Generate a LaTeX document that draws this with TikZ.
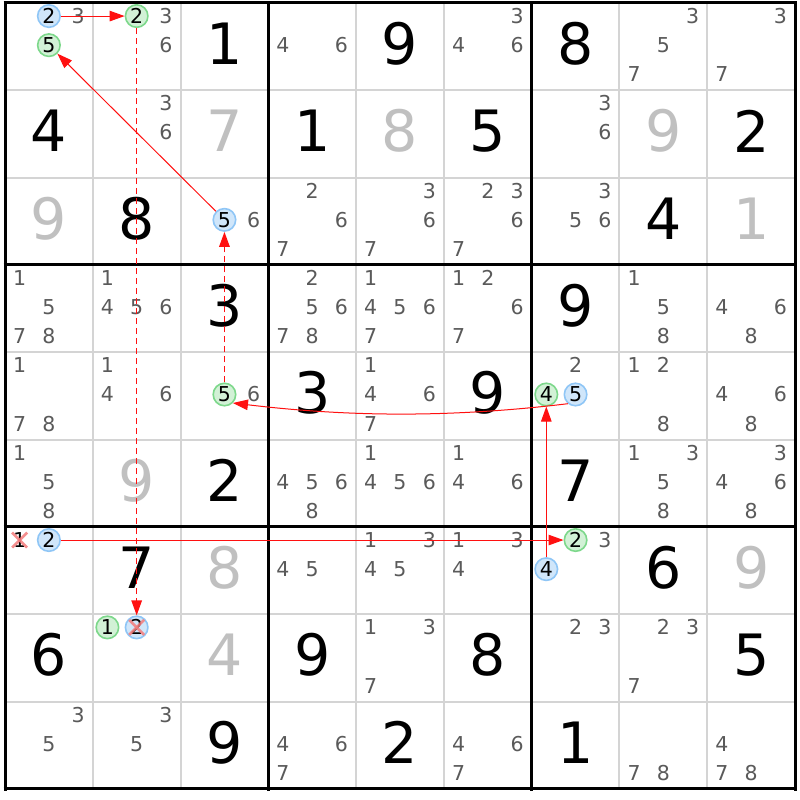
\documentclass[tikz,border=0pt]{standalone}
\usepackage{fontspec}
\setmainfont{DejaVu Sans}
\usetikzlibrary{arrows.meta}
\definecolor{candgray}{HTML}{5A5A5A}
\definecolor{givgray}{HTML}{C0C0C0}
\definecolor{gridgray}{HTML}{D4D4D4}
\definecolor{bluefill}{HTML}{D0E6FA}
\definecolor{blueline}{HTML}{8FC6F6}
\definecolor{greenfill}{HTML}{D2F1D6}
\definecolor{greenline}{HTML}{7DD88B}
\definecolor{linkred}{HTML}{FF1010}
\definecolor{crossred}{HTML}{F47C7C}
\tikzset{
  given/.style={inner sep=0pt, font=\fontsize{57}{57}\selectfont, text=black},
  givengray/.style={given, text=givgray},
  cand/.style={inner sep=0pt, font=\fontsize{20.5}{20.5}\selectfont, text=candgray},
  bluec/.style={circle, draw=blueline, fill=bluefill, line width=1.6pt, minimum size=22.5pt, text=black},
  greenc/.style={circle, draw=greenline, fill=greenfill, line width=1.6pt, minimum size=22.5pt, text=black},
  link/.style={draw=linkred, line width=1pt},
  dlink/.style={draw=linkred, line width=1.5pt, dash pattern=on 6pt off 4pt},
  arrtip/.style={-{Triangle[length=15pt,width=10.5pt]}},
  xmark/.style={draw=crossred, line width=2.6pt, opacity=0.85},
  thinline/.style={draw=gridgray, line width=2pt},
  thickline/.style={draw=black, line width=3pt},
}
\newcommand\Given[4]{\node[#4] (g-#1-#2) at ({5+87.78*(#2+0.5)},{3+87.33*(#1+0.5)-3}) {#3};}
\newcommand\Cands[3]{\foreach \dd in {#3}{\node[cand] (c-#1-#2-\dd) at ({5+87.78*(#2+0.5)+29.26*(mod(\dd-1,3)-1)},{3+87.33*(#1+0.5)+29.1*(floor((\dd-1)/3)-1)-1.5}) {\dd};}}
\newcommand\Cc[4]{\node[cand,#4] (c-#1-#2-#3) at ({5+87.78*(#2+0.5)+29.26*(mod(#3-1,3)-1)},{3+87.33*(#1+0.5)+29.1*(floor((#3-1)/3)-1)-1.5}) {#3};}
\begin{document}
\begin{tikzpicture}[x=1pt,y=-1pt]
\fill[white] (0,0) rectangle (800,800);
\useasboundingbox (0,0) rectangle (800,800);
% grid
\foreach \i in {1,2,4,5,7,8}{
  \draw[thinline] ({5+87.78*\i},3) -- ({5+87.78*\i},789);
  \draw[thinline] (5,{3+87.33*\i}) -- (795,{3+87.33*\i});
}
\foreach \i in {0,3,6,9}{
  \draw[thickline] ({5+87.78*\i},1.5) -- ({5+87.78*\i},790.5);
  \draw[thickline] (3.5,{3+87.33*\i}) -- (796.5,{3+87.33*\i});
}
% givens
\Given{0}{2}{1}{given}\Given{0}{4}{9}{given}\Given{0}{6}{8}{given}
\Given{1}{0}{4}{given}\Given{1}{2}{7}{givengray}\Given{1}{3}{1}{given}\Given{1}{4}{8}{givengray}\Given{1}{5}{5}{given}\Given{1}{7}{9}{givengray}\Given{1}{8}{2}{given}
\Given{2}{0}{9}{givengray}\Given{2}{1}{8}{given}\Given{2}{7}{4}{given}\Given{2}{8}{1}{givengray}
\Given{3}{2}{3}{given}\Given{3}{6}{9}{given}
\Given{4}{3}{3}{given}\Given{4}{5}{9}{given}
\Given{5}{1}{9}{givengray}\Given{5}{2}{2}{given}\Given{5}{6}{7}{given}
\Given{6}{1}{7}{given}\Given{6}{2}{8}{givengray}\Given{6}{7}{6}{given}\Given{6}{8}{9}{givengray}
\Given{7}{0}{6}{given}\Given{7}{2}{4}{givengray}\Given{7}{3}{9}{given}\Given{7}{5}{8}{given}\Given{7}{8}{5}{given}
\Given{8}{2}{9}{given}\Given{8}{4}{2}{given}\Given{8}{6}{1}{given}
% candidates
\Cands{0}{0}{3}\Cc{0}{0}{2}{bluec}\Cc{0}{0}{5}{greenc}
\Cands{0}{1}{3,6}\Cc{0}{1}{2}{greenc}
\Cands{0}{3}{4,6}\Cands{0}{5}{3,4,6}\Cands{0}{7}{3,5,7}\Cands{0}{8}{3,7}
\Cands{1}{1}{3,6}\Cands{1}{6}{3,6}
\Cands{2}{2}{6}\Cc{2}{2}{5}{bluec}
\Cands{2}{3}{2,6,7}\Cands{2}{4}{3,6,7}\Cands{2}{5}{2,3,6,7}\Cands{2}{6}{3,5,6}
\Cands{3}{0}{1,5,7,8}\Cands{3}{1}{1,4,5,6}\Cands{3}{3}{2,5,6,7,8}\Cands{3}{4}{1,4,5,6,7}\Cands{3}{5}{1,2,6,7}\Cands{3}{7}{1,5,8}\Cands{3}{8}{4,6,8}
\Cands{4}{0}{1,7,8}\Cands{4}{1}{1,4,6}\Cands{4}{2}{6}\Cc{4}{2}{5}{greenc}
\Cands{4}{4}{1,4,6,7}\Cands{4}{6}{2}\Cc{4}{6}{4}{greenc}\Cc{4}{6}{5}{bluec}
\Cands{4}{7}{1,2,8}\Cands{4}{8}{4,6,8}
\Cands{5}{0}{1,5,8}\Cands{5}{3}{4,5,6,8}\Cands{5}{4}{1,4,5,6}\Cands{5}{5}{1,4,6}\Cands{5}{7}{1,3,5,8}\Cands{5}{8}{3,4,6,8}
\Cc{6}{0}{1}{text=black}\Cc{6}{0}{2}{bluec}
\Cands{6}{3}{4,5}\Cands{6}{4}{1,3,4,5}\Cands{6}{5}{1,3,4}
\Cands{6}{6}{3}\Cc{6}{6}{2}{greenc}\Cc{6}{6}{4}{bluec}
\Cc{7}{1}{1}{greenc}\Cc{7}{1}{2}{bluec}
\Cands{7}{4}{1,3,7}\Cands{7}{6}{2,3}\Cands{7}{7}{2,3,7}
\Cands{8}{0}{3,5}\Cands{8}{1}{3,5}\Cands{8}{3}{4,6,7}\Cands{8}{5}{4,6,7}\Cands{8}{7}{7,8}\Cands{8}{8}{4,7,8}
% links
\draw[link,arrtip] (c-0-0-2) -- (c-0-1-2);
\draw[dlink,arrtip] (c-0-1-2) -- (c-7-1-2);
\draw[link,arrtip] (c-2-2-5) -- (c-0-0-5);
\draw[dlink,arrtip] (c-4-2-5) -- (c-2-2-5);
\draw[link,arrtip] (c-4-6-5.-130) .. controls +(-117,14) and +(117,14) .. (c-4-2-5.-45);
\draw[link,arrtip] (c-6-0-2) -- (c-6-6-2);
\draw[link,arrtip] (c-6-6-4) -- (c-4-6-4);
% eliminations
\draw[xmark] (c-6-0-1.center) ++(-7.5,-7.5) -- ++(15,15);
\draw[xmark] (c-6-0-1.center) ++(7.5,-7.5) -- ++(-15,15);
\draw[xmark] (c-7-1-2.center) ++(-7.5,-7.5) -- ++(15,15);
\draw[xmark] (c-7-1-2.center) ++(7.5,-7.5) -- ++(-15,15);
\end{tikzpicture}
\end{document}
